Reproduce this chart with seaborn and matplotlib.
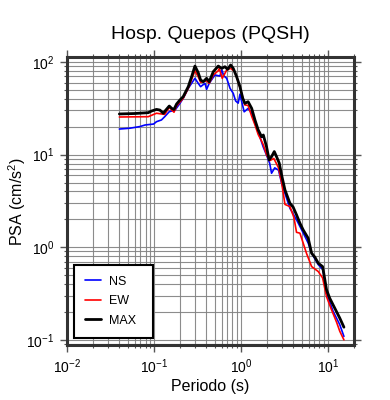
import matplotlib
matplotlib.use("Agg")
import matplotlib.pyplot as plt
import seaborn as sns
import pandas as pd

# ---- data ----
T_ns = [0.040, 0.053, 0.069, 0.079, 0.099, 0.107, 0.122, 0.133, 0.150, 0.175,
        0.199, 0.217, 0.248, 0.296, 0.323, 0.344, 0.386, 0.403, 0.432, 0.502,
        0.574, 0.600, 0.640, 0.686, 0.750, 0.816, 0.870, 0.930, 0.975, 1.09,
        1.21, 1.33, 1.45, 1.65, 1.80, 1.97, 2.14, 2.25, 2.45, 2.71,
        2.94, 3.66, 4.36, 5.00, 5.94, 6.50, 7.75, 8.80, 9.66, 11.5, 13.7, 15.3]
ns = [18.9, 19.3, 20.1, 20.9, 21.4, 22.7, 23.7, 25.7, 29.1, 30.3,
      35.8, 40.6, 52.0, 66.7, 58.9, 54.2, 58.9, 50.7, 58.9, 72.4,
      70.6, 82.0, 70.6, 66.7, 52.0, 45.9, 38.0, 36.0, 45.0, 29.0,
      31.6, 28.0, 21.8, 15.6, 12.2, 9.9, 8.1, 6.3, 7.2, 6.8,
      4.9, 2.64, 1.98, 1.54, 1.11, 0.863, 0.65, 0.57, 0.32, 0.203, 0.146, 0.109]

T_ew = [0.040, 0.086, 0.107, 0.122, 0.133, 0.150, 0.170, 0.182, 0.217, 0.248,
        0.296, 0.323, 0.344, 0.403, 0.432, 0.481, 0.549, 0.564, 0.610, 0.655,
        0.686, 0.762, 0.850, 0.930, 1.02, 1.11, 1.21, 1.33, 1.45, 1.58,
        1.73, 1.81, 1.97, 2.14, 2.39, 2.71, 2.94, 3.21, 3.66, 4.07,
        4.36, 4.77, 5.20, 5.67, 6.50, 7.75, 8.69, 9.66, 11.0, 12.6, 13.7, 15.3]
ew = [25.5, 25.7, 28.0, 27.5, 27.2, 32.4, 28.7, 33.5, 40.6, 52.0,
      80.6, 69.4, 60.4, 62.8, 58.9, 72.4, 80.6, 85.5, 66.7, 75.5,
      82.0, 85.5, 78.7, 61.3, 45.9, 34.4, 34.0, 26.0, 21.0, 16.5,
      14.0, 12.8, 10.0, 8.6, 9.1, 7.2, 5.0, 2.9, 2.75, 2.1,
      1.45, 1.42, 1.11, 0.863, 0.619, 0.547, 0.468, 0.292, 0.212, 0.155, 0.124, 0.100]

T_max = [0.040, 0.060, 0.086, 0.094, 0.107, 0.117, 0.128, 0.137, 0.150, 0.160,
         0.170, 0.182, 0.199, 0.217, 0.248, 0.271, 0.296, 0.323, 0.344, 0.369,
         0.403, 0.432, 0.481, 0.549, 0.600, 0.655, 0.703, 0.762, 0.816, 0.893,
         0.975, 1.05, 1.11, 1.21, 1.33, 1.45, 1.58, 1.73, 1.81, 1.97,
         2.11, 2.25, 2.42, 2.57, 2.76, 2.94, 3.21, 3.66, 3.99, 4.36,
         4.77, 5.20, 5.94, 6.50, 7.10, 7.75, 8.69, 9.24, 9.66, 10.5,
         12.0, 13.7, 15.3]
mx = [27.5, 27.8, 28.4, 29.6, 30.8, 30.3, 28.0, 30.3, 33.5, 31.6,
      30.8, 35.2, 38.9, 42.3, 54.2, 69.4, 90.5, 76.7, 64.0, 61.3,
      66.7, 61.3, 78.7, 90.5, 85.5, 89.0, 83.4, 92.9, 85.5, 69.4,
      54.2, 40.6, 35.8, 37.3, 31.6, 23.7, 18.5, 15.6, 16.3, 12.2,
      8.8, 9.5, 10.8, 9.5, 8.1, 6.0, 4.16, 2.99, 2.71, 2.24,
      1.82, 1.54, 1.25, 0.863, 0.78, 0.673, 0.619, 0.445, 0.347, 0.282,
      0.220, 0.172, 0.137]

labels = ["NS", "EW", "MAX"]
colors = ["#0000ff", "#ff0000", "#000000"]
widths = [1.2, 1.2, 2.0]

title = "Hosp. Quepos (PQSH)"
xlabel = "Periodo (s)"
ylabel = "PSA (cm/s$^2$)"

df = pd.concat([
    pd.DataFrame({"T": T_ns, "PSA": ns, "comp": "NS"}),
    pd.DataFrame({"T": T_ew, "PSA": ew, "comp": "EW"}),
    pd.DataFrame({"T": T_max, "PSA": mx, "comp": "MAX"}),
], ignore_index=True)

sns.set_style("ticks")
plt.rcParams["font.family"] = ["Liberation Sans", "DejaVu Sans"]
plt.rcParams["mathtext.fontset"] = "custom"
plt.rcParams["mathtext.rm"] = "Liberation Sans"
plt.rcParams["mathtext.it"] = "Liberation Sans:italic"
plt.rcParams["text.color"] = "black"
plt.rcParams["axes.labelcolor"] = "black"

fig = plt.figure(figsize=(3.9, 4.0), dpi=100)
ax = fig.add_axes([0.1718, 0.1375, 0.736, 0.7188])

for lab, col, lw in zip(labels, colors, widths):
    sub = df[df["comp"] == lab]
    sns.lineplot(data=sub, x="T", y="PSA", ax=ax, color=col, linewidth=lw,
                 label=lab, estimator=None, sort=True, zorder=3)

ax.set_xscale("log")
ax.set_yscale("log")
ax.set_xlim(0.01, 20)
ax.set_ylim(0.088, 112)

ax.grid(which="both", color="0.5", linewidth=0.8, alpha=0.9)
ax.set_axisbelow(True)
for s in ax.spines.values():
    s.set_linewidth(2.2)
    s.set_color("#333333")
ax.tick_params(which="both", direction="out", top=True, right=True,
               color="#555555", labelcolor="black", labelsize=10)
ax.tick_params(which="major", length=5, width=1.0, pad=4)
ax.tick_params(which="minor", length=2.5, width=0.8)

ax.set_title(title, fontsize=14, pad=13, color="black")
ax.set_xlabel(xlabel, fontsize=11.5, labelpad=2)
ax.set_ylabel(ylabel, fontsize=11.5, labelpad=-1)

leg = ax.legend(loc="lower left", bbox_to_anchor=(0.024, 0.024, 0.275, 0.247),
                mode="expand", borderaxespad=0, fontsize=9, fancybox=False,
                edgecolor="black", framealpha=1, handlelength=1.3,
                handletextpad=0.6, labelspacing=0.6, borderpad=0.9)
leg.get_frame().set_linewidth(1.5)
for t in leg.get_texts():
    t.set_color("black")

fig.savefig("out.png", dpi=100)
